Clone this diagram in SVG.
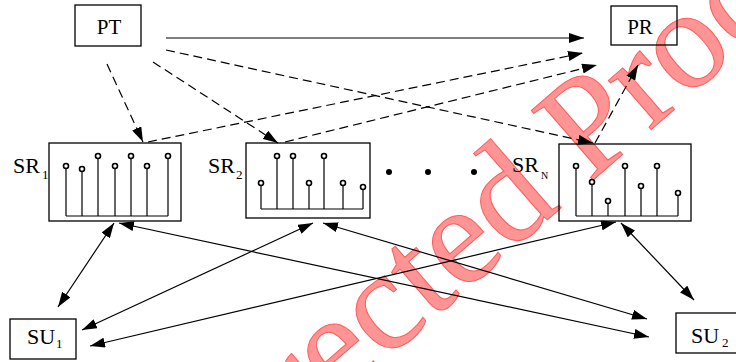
<svg xmlns="http://www.w3.org/2000/svg" width="736" height="362" viewBox="0 0 736 362">
  <defs>
    <marker id="ah" markerUnits="userSpaceOnUse" markerWidth="15" markerHeight="10" refX="15" refY="5" orient="auto-start-reverse">
      <path d="M0,0 L15,5 L0,10 z" fill="#000"/>
    </marker>
    <style>
      .box { fill: none; stroke: #000; stroke-width: 1.3; }
      .lbl { font-family: "Liberation Serif", "Times New Roman", serif; font-size: 21px; fill: #000; }
      .sub { font-family: "Liberation Serif", "Times New Roman", serif; font-size: 13px; fill: #000; }
      .stem { fill: none; stroke: #000; stroke-width: 1.2; }
      .dot { fill: #fff; stroke: #000; stroke-width: 1.6; }
      .solid { fill: none; stroke: #000; stroke-width: 1.2; marker-end: url(#ah); }
      .both { fill: none; stroke: #000; stroke-width: 1.2; marker-start: url(#ah); marker-end: url(#ah); }
      .dash { fill: none; stroke: #000; stroke-width: 1.2; stroke-dasharray: 9 5; marker-end: url(#ah); }
      .wm { font-family: "Liberation Serif", "Times New Roman", serif; font-size: 142px; fill: #ff9494; stroke: #ff5c5c; stroke-width: 1; }
    </style>
  </defs>

  <!-- watermark -->
  <text class="wm" transform="translate(140,574) rotate(-41)">Corrected Proof</text>

  <!-- nodes -->
  <g id="PT">
    <rect class="box" x="75" y="5" width="66" height="41"/>
    <text class="lbl" x="109" y="34" text-anchor="middle">PT</text>
  </g>
  <g id="PR">
    <rect class="box" x="611" y="6" width="66" height="39"/>
    <text class="lbl" x="640" y="34" text-anchor="middle">PR</text>
  </g>

  <g id="SR1">
    <rect class="box" x="49" y="143" width="132" height="78"/>
    <text class="lbl" x="13" y="173" style="font-size:22px">SR</text>
    <text class="sub" x="42" y="179">1</text>
    <path class="stem" d="M66,216 H168 M66,216 V166 M82,216 V169 M98,216 V156 M115,216 V166 M131,216 V156 M147,216 V166 M168,216 V156"/>
    <circle class="dot" cx="66" cy="166" r="2.5"/>
    <circle class="dot" cx="82" cy="169" r="2.5"/>
    <circle class="dot" cx="98" cy="156" r="2.5"/>
    <circle class="dot" cx="115" cy="166" r="2.5"/>
    <circle class="dot" cx="131" cy="156" r="2.5"/>
    <circle class="dot" cx="147" cy="166" r="2.5"/>
    <circle class="dot" cx="168" cy="156" r="2.5"/>
  </g>

  <g id="SR2">
    <rect class="box" x="246" y="143" width="124" height="75"/>
    <text class="lbl" x="208" y="173" style="font-size:22px">SR</text>
    <text class="sub" x="236" y="179">2</text>
    <path class="stem" d="M261,209 H363 M261,209 V183 M277,209 V156 M293,209 V156 M309,209 V183 M324,209 V156 M343,209 V183 M363,209 V187"/>
    <circle class="dot" cx="261" cy="183" r="2.5"/>
    <circle class="dot" cx="277" cy="156" r="2.5"/>
    <circle class="dot" cx="293" cy="156" r="2.5"/>
    <circle class="dot" cx="309" cy="183" r="2.5"/>
    <circle class="dot" cx="324" cy="156" r="2.5"/>
    <circle class="dot" cx="343" cy="183" r="2.5"/>
    <circle class="dot" cx="363" cy="187" r="2.5"/>
  </g>

  <g id="ellipsis">
    <circle cx="389" cy="172" r="3" fill="#000"/>
    <circle cx="428" cy="172" r="3" fill="#000"/>
    <circle cx="474" cy="172" r="3" fill="#000"/>
  </g>

  <g id="SRN">
    <rect class="box" x="559" y="144" width="132" height="77"/>
    <text class="lbl" x="512" y="172" style="font-size:22px">SR</text>
    <text class="sub" x="541" y="179" style="font-size:10px">N</text>
    <path class="stem" d="M576,216 H678 M576,216 V166 M592,216 V182 M608,216 V201 M625,216 V166 M641,216 V186 M657,216 V166 M678,216 V193"/>
    <circle class="dot" cx="576" cy="166" r="2.5"/>
    <circle class="dot" cx="592" cy="182" r="2.5"/>
    <circle class="dot" cx="608" cy="201" r="2.5"/>
    <circle class="dot" cx="625" cy="166" r="2.5"/>
    <circle class="dot" cx="641" cy="186" r="2.5"/>
    <circle class="dot" cx="657" cy="166" r="2.5"/>
    <circle class="dot" cx="678" cy="193" r="2.5"/>
  </g>

  <g id="SU1">
    <rect class="box" x="10" y="319" width="66" height="40"/>
    <text class="lbl" x="27" y="344" style="font-size:22px">SU</text>
    <text class="sub" x="56" y="348">1</text>
  </g>
  <g id="SU2">
    <rect class="box" x="676" y="313" width="62" height="40"/>
    <text class="lbl" x="691" y="343" style="font-size:22px">SU</text>
    <text class="sub" x="722" y="347">2</text>
  </g>

  <!-- connectors -->
  <g id="connectors">
    <path class="solid" d="M166,38 L584,38"/>
    <path class="dash" d="M107,64 L143,142"/>
    <path class="dash" d="M153,62 L278,143"/>
    <path class="dash" d="M166,50 L593,143"/>
    <path class="dash" d="M148,142 L583,53"/>
    <path class="dash" d="M285,142 L597,65"/>
    <path class="dash" d="M595,143 L638,65"/>

    <path class="both" d="M114,223 L58,307"/>
    <path class="both" d="M119,223 L649,337"/>
    <path class="both" d="M313,223 L82,330"/>
    <path class="both" d="M323,223 L647,319"/>
    <path class="both" d="M616,222 L90,346"/>
    <path class="both" d="M621,223 L694,300"/>
  </g>
</svg>
